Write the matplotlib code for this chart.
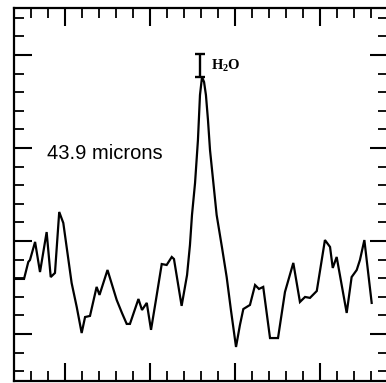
import matplotlib
matplotlib.use("Agg")
import matplotlib.pyplot as plt
from matplotlib.ticker import MultipleLocator, FixedLocator

# Spectrum trace (arbitrary channel / flux units)
channel = [0.00, 0.59, 0.84, 0.94, 1.24, 1.53, 1.92, 2.16, 2.41, 2.66, 2.90,
           3.39, 3.69, 3.98, 4.18, 4.47, 4.86, 5.03, 5.50, 6.04, 6.35, 6.63,
           6.82, 7.32, 7.53, 7.81, 8.06, 8.35, 8.69, 8.98, 9.28, 9.41, 9.86,
           10.18, 10.35, 10.47, 10.65, 10.82, 10.94, 11.06, 11.18, 11.29,
           11.41, 11.53, 11.71, 11.92, 12.24, 12.51, 12.76, 13.06, 13.29,
           13.49, 13.88, 14.18, 14.41, 14.66, 15.06, 15.53, 15.94, 16.43,
           16.82, 17.12, 17.41, 17.81, 18.29, 18.59, 18.75, 18.98, 19.57,
           19.86, 20.16, 20.35, 20.61, 21.04]
flux = [4.96, 4.96, 5.87, 5.98, 6.95, 5.33, 7.48, 5.06, 5.28, 8.56, 7.97,
        4.74, 3.45, 2.05, 2.91, 2.97, 4.53, 4.10, 5.44, 3.83, 3.13, 2.54,
        2.54, 3.88, 3.29, 3.67, 2.22, 3.83, 5.76, 5.71, 6.14, 6.03, 3.51,
        5.17, 6.78, 8.40, 10.12, 12.43, 14.85, 15.82, 15.55, 14.85,
        13.51, 11.89, 10.28, 8.40, 6.62, 5.06, 3.29, 1.30, 2.48,
        3.34, 3.56, 4.63, 4.42, 4.53, 1.78, 1.78, 4.26, 5.82,
        3.72, 3.99, 3.94, 4.31, 7.05, 6.68, 5.55, 6.14, 3.13,
        5.06, 5.44, 5.98, 7.05, 3.67]

# H2O line: peak position and its upper error
line_x = 10.97
line_y = 15.80
line_err_up = 1.25

wavelength_label = "43.9 microns"

plt.rcParams["mathtext.fontset"] = "custom"
plt.rcParams["mathtext.rm"] = "Liberation Serif:bold"
plt.rcParams["mathtext.bf"] = "Liberation Serif:bold"

fig = plt.figure(figsize=(3.86, 3.83), dpi=100)
ax = fig.add_axes([14 / 386, 2 / 383, 374 / 386, 373 / 383])

ax.plot(channel, flux, color="black", lw=1.6, solid_joinstyle="miter")

ax.errorbar([line_x], [line_y], yerr=[[0], [line_err_up]], fmt="none",
            ecolor="black", elinewidth=1.7, capsize=3.5, capthick=1.7)

ax.text(line_x + 0.6, line_y + 0.62, r"$\mathrm{H_2O}$", fontsize=10.5,
        ha="left", va="center", color="black")
ax.text(1.94, 11.73, wavelength_label, fontsize=14.5,
        family="Liberation Sans", ha="left", va="center", color="black")

ax.set_xlim(0, 22.0)
ax.set_ylim(-0.53, 19.53)

ax.xaxis.set_major_locator(FixedLocator([3, 8, 13, 18]))
ax.xaxis.set_minor_locator(MultipleLocator(1))
ax.yaxis.set_major_locator(FixedLocator([2, 7, 12, 17]))
ax.yaxis.set_minor_locator(MultipleLocator(1))

ax.tick_params(which="both", direction="in", top=True, right=True,
               labelbottom=False, labelleft=False, color="black")
ax.tick_params(which="major", length=13, width=1.5)
ax.tick_params(which="minor", length=7, width=1.3)

for sp in ax.spines.values():
    sp.set_linewidth(1.6)
    sp.set_color("black")

fig.savefig("out.png", dpi=100, facecolor="white")
